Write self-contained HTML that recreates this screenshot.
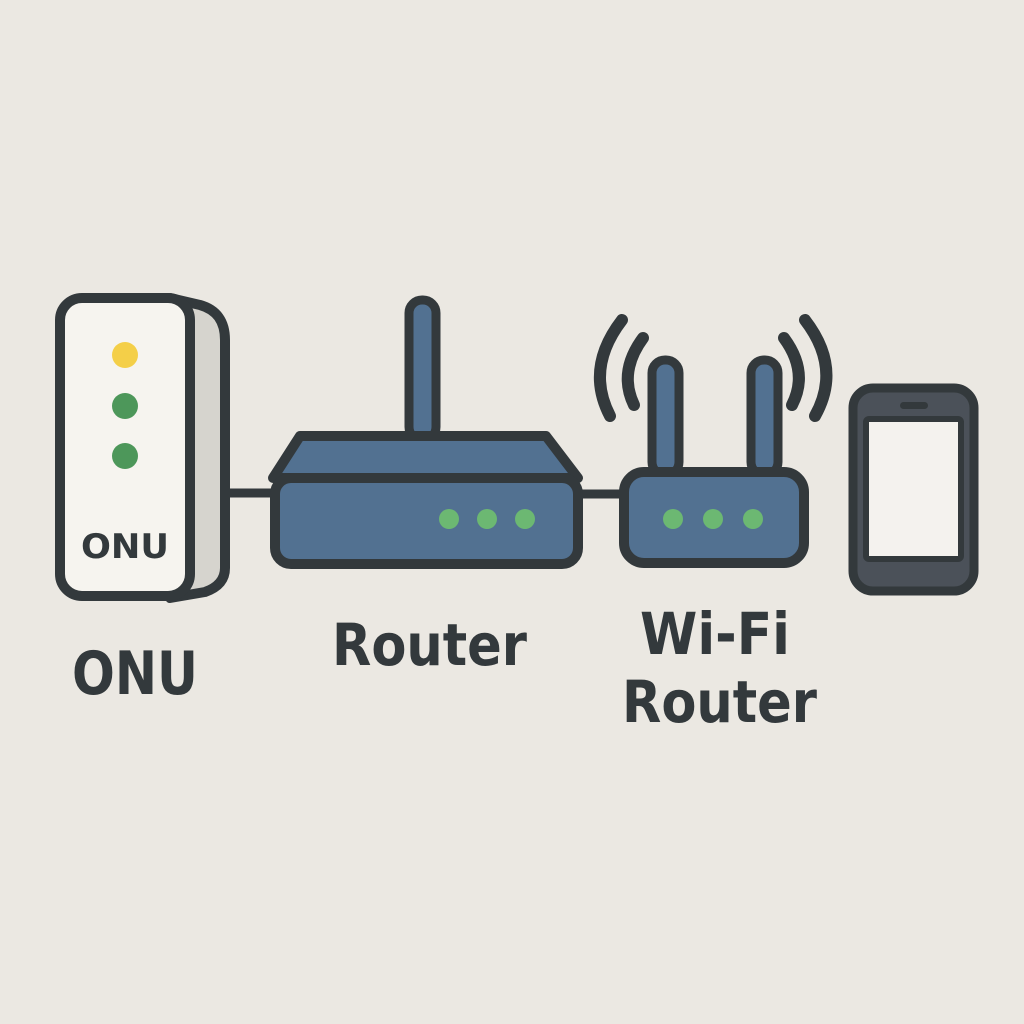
<!DOCTYPE html>
<html><head><style>html,body{margin:0;padding:0;background:#ebe8e2;}svg{display:block}</style></head><body>
<svg width="1024" height="1024" viewBox="0 0 1024 1024" xmlns="http://www.w3.org/2000/svg">
<rect width="1024" height="1024" fill="#ebe8e2"/>
<g stroke="#33393c" stroke-linecap="round" stroke-linejoin="round">
<line x1="215" y1="493" x2="280" y2="493" stroke-width="9"/>
<line x1="575" y1="494" x2="630" y2="494" stroke-width="9"/>
<path d="M170 298 L200 305 Q225 312 225 340 L225 568 Q225 585 205 592 L170 598 Z" fill="#d6d4ce" stroke-width="10"/>
<rect x="60" y="298" width="130" height="298" rx="22" fill="#f6f4ef" stroke-width="10"/>
<rect x="409" y="300" width="27" height="140" rx="13" fill="#527191" stroke-width="9"/>
<path d="M300 436 L546 436 L578 478 L273 478 Z" fill="#527191" stroke-width="10"/>
<rect x="275" y="478" width="303" height="86" rx="16" fill="#527191" stroke-width="10"/>
<rect x="652" y="360" width="27" height="115" rx="13" fill="#527191" stroke-width="9"/>
<rect x="751" y="360" width="27" height="115" rx="13" fill="#527191" stroke-width="9"/>
<rect x="624" y="472" width="180" height="91" rx="20" fill="#527191" stroke-width="10"/>
<g fill="none" stroke-width="12">
<path d="M622 320 Q585 368 610 416"/>
<path d="M643 338 Q618 372 634 405"/>
<path d="M805 320 Q842 368 815 416"/>
<path d="M784 338 Q809 372 792 405"/>
</g>
<rect x="853" y="388" width="121" height="203" rx="20" fill="#4b5159" stroke-width="9"/>
<rect x="866" y="419" width="95" height="140" rx="3" fill="#f4f2ee" stroke-width="6"/>
<rect x="900" y="402" width="28" height="7" rx="3.5" fill="#33393c" stroke-width="0"/>
</g>
<circle cx="125" cy="355" r="13" fill="#f4cf48"/>
<circle cx="125" cy="406" r="13" fill="#4d975a"/>
<circle cx="125" cy="456" r="13" fill="#4d975a"/>
<g fill="#6cb872">
<circle cx="449" cy="519" r="10"/><circle cx="487" cy="519" r="10"/><circle cx="525" cy="519" r="10"/>
<circle cx="673" cy="519" r="10"/><circle cx="713" cy="519" r="10"/><circle cx="753" cy="519" r="10"/>
</g>
<g font-family="'DejaVu Sans','Liberation Sans',sans-serif" font-weight="bold" fill="#33393c">
<text x="81" y="558" font-size="34" textLength="88" lengthAdjust="spacingAndGlyphs">ONU</text>
<text x="72" y="694" font-size="60" textLength="126" lengthAdjust="spacingAndGlyphs">ONU</text>
<text x="332" y="665" font-size="58" textLength="195" lengthAdjust="spacingAndGlyphs">Router</text>
<text x="640" y="654" font-size="58" textLength="150" lengthAdjust="spacingAndGlyphs">Wi-Fi</text>
<text x="622" y="722" font-size="58" textLength="195" lengthAdjust="spacingAndGlyphs">Router</text>
</g>
</svg>
</body></html>
